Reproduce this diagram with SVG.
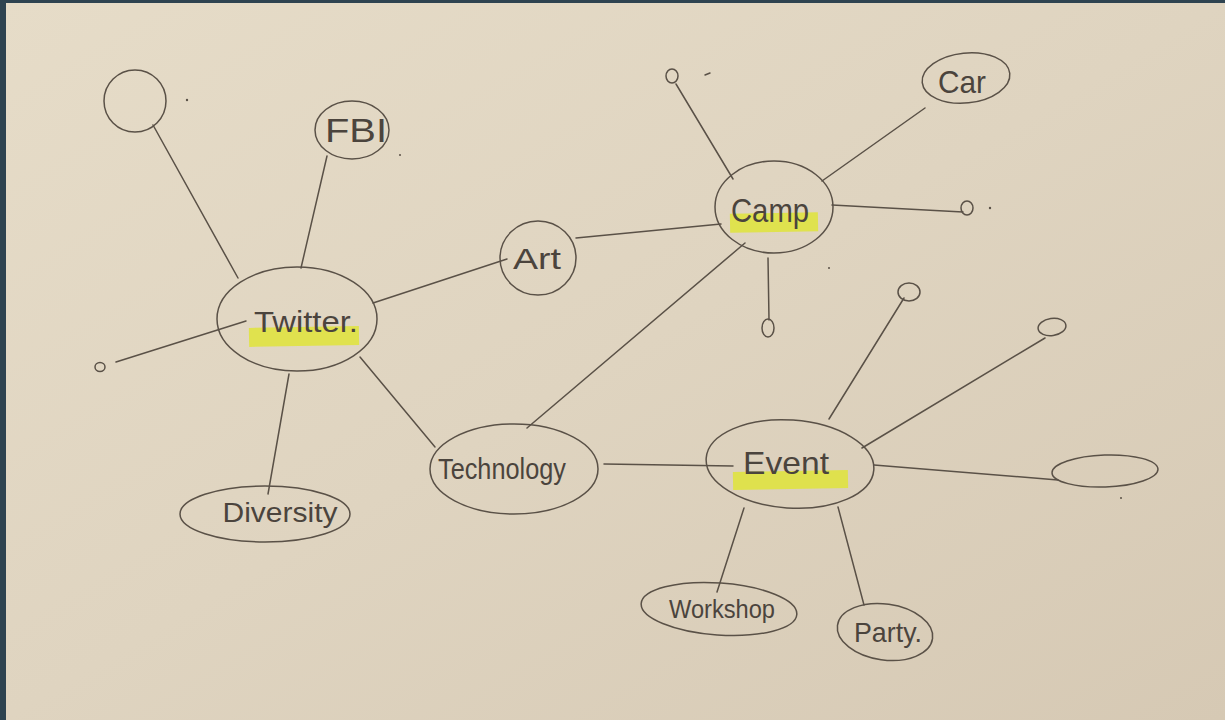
<svg xmlns="http://www.w3.org/2000/svg" width="1225" height="720" viewBox="0 0 1225 720">
<defs>
<linearGradient id="paper" x1="0" y1="0" x2="1" y2="1">
<stop offset="0" stop-color="#e6dcc8"/>
<stop offset="0.5" stop-color="#dfd4c0"/>
<stop offset="1" stop-color="#d6c9b4"/>
</linearGradient>
<style>
.s{fill:none;stroke:#5a5147;stroke-width:1.5;stroke-linecap:round}
.t{font-family:"Liberation Sans","DejaVu Sans",sans-serif;fill:#4b443d;text-anchor:middle}
.h{fill:#dfe43a;opacity:0.85}
.d{fill:#5a5147}
</style>
</defs>
<rect x="0" y="0" width="1225" height="720" fill="url(#paper)"/>
<rect x="0" y="0" width="6" height="720" fill="#2e4350"/>
<rect x="0" y="0" width="1225" height="3" fill="#2e4350"/>

<g id="connectors">
<line class="s" x1="153" y1="125" x2="238" y2="278"/>
<line class="s" x1="327" y1="156" x2="301" y2="268"/>
<line class="s" x1="116" y1="362" x2="246" y2="321"/>
<line class="s" x1="289" y1="374" x2="268" y2="494"/>
<line class="s" x1="360" y1="357" x2="435" y2="447"/>
<line class="s" x1="373" y1="303" x2="507" y2="259"/>
<line class="s" x1="576" y1="238" x2="721" y2="224"/>
<line class="s" x1="527" y1="428" x2="745" y2="243"/>
<line class="s" x1="733" y1="179" x2="676" y2="84"/>
<line class="s" x1="822" y1="181" x2="925" y2="108"/>
<line class="s" x1="832" y1="205" x2="963" y2="212"/>
<line class="s" x1="768" y1="258" x2="769" y2="320"/>
<line class="s" x1="604" y1="464" x2="733" y2="466"/>
<line class="s" x1="829" y1="419" x2="904" y2="298"/>
<line class="s" x1="862" y1="448" x2="1045" y2="338"/>
<line class="s" x1="874" y1="465" x2="1058" y2="480"/>
<line class="s" x1="744" y1="508" x2="717" y2="592"/>
<line class="s" x1="838" y1="507" x2="864" y2="605"/>
</g>

<g id="empty-topleft"><ellipse class="s" cx="135" cy="101" rx="31" ry="31"/></g>
<g id="fbi"><ellipse class="s" cx="352" cy="130" rx="37" ry="29"/><text class="t" x="356" y="142" font-size="34" textLength="62" lengthAdjust="spacingAndGlyphs">FBI</text></g>
<g id="twitter"><ellipse class="s" cx="297" cy="319" rx="80" ry="52"/><rect class="h" x="249" y="327" width="110" height="19" transform="rotate(-1 304 336)"/><text class="t" x="306" y="332" font-size="30" textLength="104" lengthAdjust="spacingAndGlyphs">Twitter.</text></g>
<g id="small-left"><ellipse class="s" cx="100" cy="367" rx="5" ry="4.5"/></g>
<g id="diversity"><ellipse class="s" cx="265" cy="514" rx="85" ry="28"/><text class="t" x="280" y="522" font-size="27" textLength="115" lengthAdjust="spacingAndGlyphs">Diversity</text></g>
<g id="technology"><ellipse class="s" cx="514" cy="469" rx="84" ry="45"/><text class="t" x="502" y="479" font-size="29" textLength="128" lengthAdjust="spacingAndGlyphs">Technology</text></g>
<g id="art"><ellipse class="s" cx="538" cy="258" rx="38" ry="37"/><text class="t" x="537" y="269" font-size="30" textLength="48" lengthAdjust="spacingAndGlyphs">Art</text></g>
<g id="camp"><ellipse class="s" cx="774" cy="207" rx="59" ry="46"/><rect class="h" x="730" y="213" width="88" height="19" transform="rotate(-1 774 222)"/><text class="t" x="770" y="222" font-size="34" textLength="78" lengthAdjust="spacingAndGlyphs">Camp</text></g>
<g id="car"><ellipse class="s" cx="966" cy="78" rx="44" ry="25" transform="rotate(-6 966 78)"/><text class="t" x="962" y="93" font-size="32" textLength="48" lengthAdjust="spacingAndGlyphs">Car</text></g>
<g id="small-camp-top"><ellipse class="s" cx="672" cy="76" rx="6" ry="7"/></g>
<g id="small-camp-right"><ellipse class="s" cx="967" cy="208" rx="6" ry="7"/></g>
<g id="small-camp-bottom"><ellipse class="s" cx="768" cy="328" rx="6" ry="9"/></g>
<g id="event"><ellipse class="s" cx="790" cy="464" rx="84" ry="44" transform="rotate(4 790 464)"/><rect class="h" x="733" y="471" width="115" height="18" transform="rotate(-1 790 480)"/><text class="t" x="786" y="474" font-size="32" textLength="86" lengthAdjust="spacingAndGlyphs">Event</text></g>
<g id="small-event-top"><ellipse class="s" cx="909" cy="292" rx="11" ry="9"/></g>
<g id="small-event-right"><ellipse class="s" cx="1052" cy="327" rx="14" ry="8.5" transform="rotate(-8 1052 327)"/></g>
<g id="empty-event-right"><ellipse class="s" cx="1105" cy="471" rx="53" ry="16" transform="rotate(-2 1105 471)"/></g>
<g id="workshop"><ellipse class="s" cx="719" cy="609" rx="78" ry="26" transform="rotate(4 719 609)"/><text class="t" x="722" y="618" font-size="25" textLength="106" lengthAdjust="spacingAndGlyphs">Workshop</text></g>
<g id="party"><ellipse class="s" cx="885" cy="632" rx="48" ry="28" transform="rotate(8 885 632)"/><text class="t" x="888" y="642" font-size="28" textLength="68" lengthAdjust="spacingAndGlyphs">Party.</text></g>

<g id="specks">
<circle class="d" cx="187" cy="100" r="1.2"/>
<circle class="d" cx="400" cy="155" r="1"/>
<circle class="d" cx="990" cy="208" r="1.2"/>
<circle class="d" cx="829" cy="268" r="1"/>
<circle class="d" cx="1121" cy="498" r="1"/>
<line class="s" x1="705" y1="75" x2="710" y2="73"/>
</g>
</svg>
